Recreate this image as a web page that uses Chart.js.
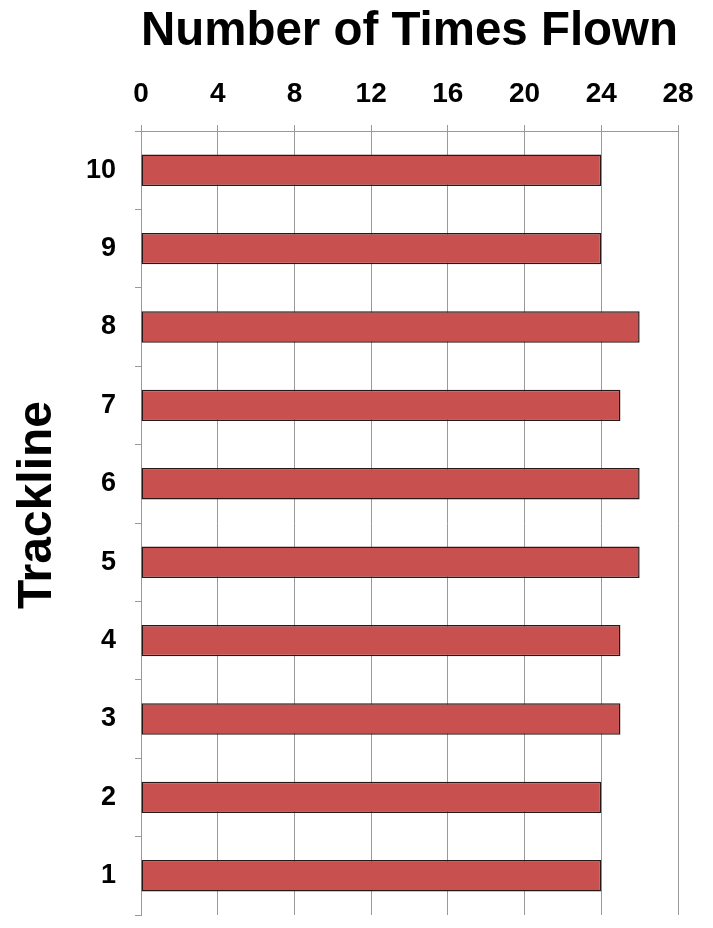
<!DOCTYPE html>
<html lang="en">
	<head>
		<meta charset="UTF-8" />
		<title>Number of Times Flown</title>
		<script src="https://cdn.jsdelivr.net/npm/chart.js"></script>
		<style>
			body { margin: 0; background: #fff; }
		</style>
	</head>

	<body>
		<canvas id="myChart" width="713" height="928"></canvas>
	</body>
	<script>
		// trackline numbers, bottom to top
		const tracklines = ["1", "2", "3", "4", "5", "6", "7", "8", "9", "10"];
		const timesFlown = [24, 24, 25, 25, 26, 26, 25, 26, 24, 24];
		const xTicks = [0, 4, 8, 12, 16, 20, 24, 28];

		const ctx = document.getElementById("myChart");
		const fontFam = "'Liberation Sans', Arial, sans-serif";

		// y title sits a bit above the axis middle in the original, so draw it by hand
		const yTitle = {
			id: "yTitle",
			afterDraw(chart) {
				const c = chart.ctx;
				c.save();
				c.translate(38, 505);
				c.rotate(-Math.PI / 2);
				c.fillStyle = "#000";
				c.font = "bold 48px " + fontFam;
				c.textAlign = "center";
				c.textBaseline = "middle";
				c.fillText("Trackline", 0, 0);
				c.restore();
			},
		};

		const myChart = new Chart(ctx, {
			type: "bar",
			data: {
				labels: tracklines,
				datasets: [
					{
						data: timesFlown,
						backgroundColor: "#C8504F",
						borderColor: "#2a1818",
						borderWidth: 1.5,
						borderSkipped: false,
						categoryPercentage: 1,
						barPercentage: 0.4,
					},
				],
			},
			options: {
				indexAxis: "y",
				responsive: false,
				animation: false,
				layout: { padding: { top: 0, right: 35, bottom: 13, left: 0 } },
				plugins: { legend: { display: false }, tooltip: { enabled: false } },
				scales: {
					x: {
						position: "top",
						min: xTicks[0],
						max: xTicks[xTicks.length - 1],
						afterBuildTicks: (s) => { s.ticks = xTicks.map((v) => ({ value: v })); },
						ticks: {
							color: "#000",
							font: { family: fontFam, size: 28, weight: "bold" },
							padding: 14,
						},
						grid: { color: "#999", tickLength: 6, tickColor: "#999" },
						border: { color: "#999" },
						title: {
							display: true,
							text: "Number of Times Flown",
							color: "#000",
							font: { family: fontFam, size: 48.5, weight: "bold" },
							padding: { top: 3, bottom: 0 },
						},
						afterFit: (s) => { s.height = 131; },
					},
					y: {
						reverse: true,
						ticks: {
							color: "#000",
							font: { family: fontFam, size: 27, weight: "bold" },
							padding: 19,
						},
						grid: { drawOnChartArea: false, offset: true, tickLength: 6, tickColor: "#999" },
						border: { color: "#999" },
						afterFit: (s) => {
							s.width = 141;
							s.paddingTop = 0;
							s.paddingBottom = 0;
						},
					},
				},
			},
			plugins: [yTitle],
		});
	</script>
</html>
